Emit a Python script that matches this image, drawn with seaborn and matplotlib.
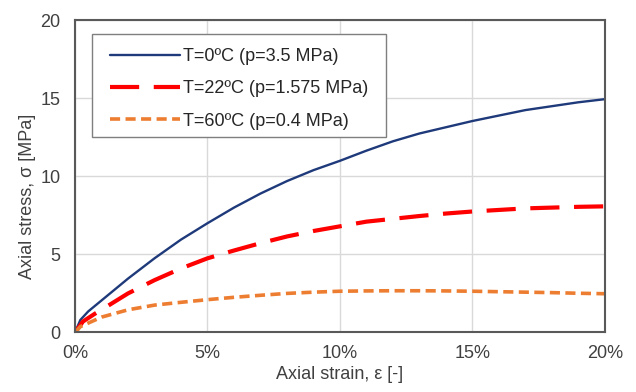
import matplotlib
matplotlib.use("Agg")
import matplotlib.pyplot as plt
import matplotlib.ticker as mticker
from matplotlib.patches import Rectangle
import seaborn as sns
import pandas as pd

# strain in %, stress in MPa
strain_0C = [0, 0.2, 0.5, 1, 2, 3, 4, 5, 6, 7, 8, 9, 10, 11, 12, 13, 14, 15, 16, 17, 18, 19, 20]
stress_0C = [0, 0.8, 1.35, 2.05, 3.45, 4.75, 5.95, 7.0, 8.0, 8.9, 9.7, 10.4, 11.0, 11.65, 12.25,
             12.75, 13.15, 13.55, 13.9, 14.25, 14.5, 14.75, 14.95]

strain_22C = [0, 0.3, 0.75, 1, 2, 3, 4, 5, 6, 7, 8, 9, 10, 11, 12, 13, 14, 15, 16, 17, 18, 19, 20]
stress_22C = [0, 0.7, 1.2, 1.45, 2.5, 3.35, 4.1, 4.75, 5.25, 5.72, 6.15, 6.5, 6.8, 7.1, 7.28,
              7.46, 7.62, 7.75, 7.85, 7.95, 8.0, 8.05, 8.08]

strain_60C = [0, 0.2, 0.5, 1, 2, 3, 4, 5, 6, 7, 8, 9, 10, 11, 12, 13, 14, 15, 16, 17, 18, 19, 20]
stress_60C = [0, 0.37, 0.6, 0.98, 1.45, 1.75, 1.93, 2.1, 2.25, 2.38, 2.5, 2.58, 2.64, 2.66, 2.67,
              2.67, 2.66, 2.64, 2.61, 2.58, 2.55, 2.51, 2.48]

labels = ["T=0ºC (p=3.5 MPa)", "T=22ºC (p=1.575 MPa)", "T=60ºC (p=0.4 MPa)"]
x_ticks = [0, 5, 10, 15, 20]
y_ticks = [0, 5, 10, 15, 20]

sns.set_theme(style="whitegrid")
plt.rcParams['font.family'] = ['Liberation Sans', 'DejaVu Sans']

FS = 13

fig, ax = plt.subplots(figsize=(6.36, 3.92), dpi=100)
fig.subplots_adjust(left=0.118, right=0.951, top=0.948, bottom=0.152)

df0 = pd.DataFrame({"strain": strain_0C, "stress": stress_0C})
df1 = pd.DataFrame({"strain": strain_22C, "stress": stress_22C})
df2 = pd.DataFrame({"strain": strain_60C, "stress": stress_60C})

sns.lineplot(data=df0, x="strain", y="stress", ax=ax, color="#1F3A7A", lw=1.7,
             label=labels[0], sort=False)
sns.lineplot(data=df1, x="strain", y="stress", ax=ax, color="#FF0000", lw=3.0,
             label=labels[1], sort=False)
sns.lineplot(data=df2, x="strain", y="stress", ax=ax, color="#ED7D31", lw=2.6,
             label=labels[2], sort=False)
lines = ax.get_lines()
lines[1].set_dashes((7, 3.5))
lines[2].set_dashes((2.8, 1.5))

ax.set_xlim(0, 20)
ax.set_ylim(0, 20)
ax.set_xticks(x_ticks)
ax.set_yticks(y_ticks)
ax.xaxis.set_major_formatter(mticker.FuncFormatter(lambda v, p: f"{int(v)}%"))

ax.grid(True, color="#d9d9d9", lw=1.0)
for s in ax.spines.values():
    s.set_visible(True)
    s.set_color("#595959")
    s.set_linewidth(1.5)
ax.tick_params(axis="both", length=0, labelsize=FS, colors="#404040")
ax.tick_params(axis="x", pad=9)
ax.tick_params(axis="y", pad=10.5)

ax.set_xlabel("Axial strain, ε [-]", fontsize=FS, color="#404040")
ax.set_ylabel("Axial stress, σ [MPa]", fontsize=FS, color="#404040")
ax.xaxis.set_label_coords(0.5, -0.107)
ax.yaxis.set_label_coords(-0.074, 0.4375)

leg = ax.legend(loc="upper left", bbox_to_anchor=(0.049, 0.941), borderaxespad=0,
                fontsize=FS, handlelength=3.9, handletextpad=0.12, labelspacing=0.85,
                borderpad=0.5, frameon=False)
for t in leg.get_texts():
    t.set_color("#262626")

# draw legend frame with wider horizontal padding than vertical
fig.canvas.draw()
bb = leg.get_window_extent()
inv = fig.transFigure.inverted()
(x0, y0) = inv.transform((bb.x0 - 9, bb.y0 + 2))
(x1, y1) = inv.transform((bb.x1 + 9, bb.y1 + 5))
frame = Rectangle((x0, y0), x1 - x0, y1 - y0, transform=fig.transFigure,
                  facecolor="white", edgecolor="#7f7f7f", lw=1.0, zorder=4)
fig.add_artist(frame)
leg.set_zorder(5)
leg.remove()
fig.add_artist(leg)

fig.savefig("out.png", dpi=100)
